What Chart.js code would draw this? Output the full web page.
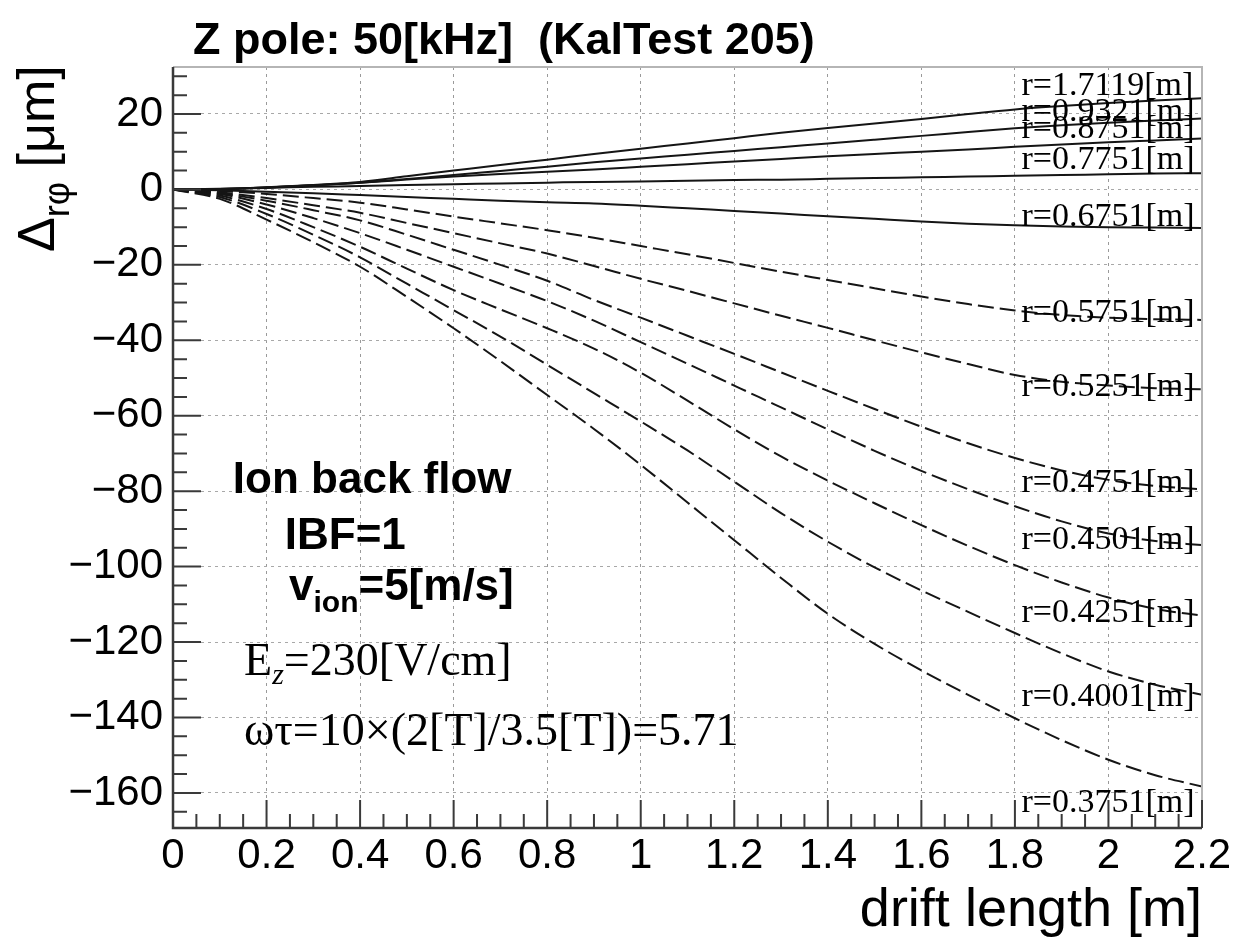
<!DOCTYPE html>
<html>
<head>
<meta charset="utf-8">
<script src="https://cdn.jsdelivr.net/npm/chart.js@4.4.1/dist/chart.umd.min.js"></script>
<style>
  html, body { margin: 0; padding: 0; background: #fff; }
  canvas { display: block; }
</style>
</head>
<body>
<canvas id="c" width="1235" height="947"></canvas>
<script>
// drift length samples [m]
const driftLength = [0, 0.1, 0.2, 0.3, 0.4, 0.5, 0.6, 0.7, 0.8, 0.9, 1.0, 1.1,
                     1.2, 1.3, 1.4, 1.5, 1.6, 1.7, 1.8, 1.9, 2.0, 2.1, 2.2];

// r-phi distortion [um] for each radius
const r1_7119 = [0, 0.1, 0.6, 1.2, 2.0, 3.5, 5.0, 6.5, 7.9, 9.4, 10.8, 12.2,
                 13.6, 15.0, 16.3, 17.5, 18.7, 20.0, 21.2, 22.1, 22.9, 23.6, 24.2];
const r0_9321 = [0, 0.1, 0.5, 1.1, 1.8, 2.8, 3.8, 4.9, 6.0, 7.2, 8.2, 9.2,
                 10.2, 11.2, 12.2, 13.2, 14.2, 15.2, 16.2, 17.0, 17.7, 18.3, 18.8];
const r0_8751 = [0, 0.1, 0.5, 1.1, 1.8, 2.6, 3.4, 4.1, 4.7, 5.3, 6.0, 6.7,
                 7.4, 8.1, 8.8, 9.4, 10.0, 10.6, 11.3, 11.9, 12.5, 13.0, 13.5];
const r0_7751 = [0, 0.2, 0.4, 0.7, 0.9, 1.2, 1.4, 1.6, 1.8, 2.0, 2.1, 2.3,
                 2.5, 2.6, 2.8, 3.0, 3.2, 3.4, 3.6, 3.8, 4.0, 4.2, 4.3];
const r0_6751 = [0, -0.2, -0.6, -1.0, -1.5, -2.0, -2.5, -3.0, -3.4, -3.7, -4.3, -5.0,
                 -5.7, -6.4, -7.1, -7.8, -8.5, -9.1, -9.5, -9.8, -10.0, -10.1, -10.2];
const r0_5751 = [0, -0.4, -1.2, -2.3, -3.5, -5.3, -7.2, -9.0, -10.8, -12.8, -15.0, -17.2,
                 -19.5, -21.8, -24.0, -26.2, -28.4, -30.4, -32.1, -33.3, -34.0, -34.4, -34.6];
const r0_5251 = [0, -0.8, -2.3, -4.2, -6.2, -8.9, -11.6, -14.3, -17.0, -20.3, -23.7, -26.9,
                 -30.2, -33.5, -36.7, -40.0, -43.2, -46.3, -49.2, -51.0, -52.0, -52.7, -53.0];
const r0_4751 = [0, -1.0, -3.0, -5.5, -8.2, -12.0, -16.0, -20.0, -24.2, -29.3, -34.0, -38.8,
                 -43.6, -48.5, -53.4, -58.2, -62.9, -67.3, -71.2, -74.5, -77.0, -78.6, -79.5];
const r0_4501 = [0, -1.2, -4.0, -7.6, -11.6, -16.0, -20.5, -25.0, -29.6, -34.8, -40.5, -46.2,
                 -52.0, -57.8, -63.6, -69.3, -74.6, -79.5, -84.0, -88.0, -91.2, -93.2, -94.3];
const r0_4251 = [0, -1.6, -5.2, -10.0, -15.2, -21.0, -26.7, -31.8, -36.8, -42.2, -48.6, -56.0,
                 -63.6, -70.8, -77.2, -83.2, -89.0, -94.5, -99.6, -104.2, -108.2, -111.2, -113.0];
const r0_4001 = [0, -2.0, -6.5, -12.0, -18.0, -25.0, -32.0, -39.0, -46.5, -54.0, -61.5, -69.2,
                 -77.5, -85.8, -93.4, -100.2, -106.3, -112.0, -117.6, -123.0, -127.8, -131.3, -134.0];
const r0_3751 = [0, -2.5, -8.0, -14.0, -20.5, -28.5, -36.8, -45.5, -54.5, -63.5, -73.0, -83.0,
                 -93.0, -103.0, -112.5, -120.5, -127.5, -134.0, -140.2, -146.0, -151.2, -155.3, -158.3];

const radii = ['1.7119', '0.9321', '0.8751', '0.7751', '0.6751', '0.5751',
               '0.5251', '0.4751', '0.4501', '0.4251', '0.4001', '0.3751'];
const series = [r1_7119, r0_9321, r0_8751, r0_7751, r0_6751, r0_5751,
                r0_5251, r0_4751, r0_4501, r0_4251, r0_4001, r0_3751];

// where each radius label sits (value axis, um)
const labelValue = [27.4, 20.5, 16.0, 7.8, -7.3, -32.7, -52.3, -77.8, -92.9, -112.2, -134.7, -162.6];
const labelDrift = 1.814;

// axis ticks
const xTicks = [0, 0.2, 0.4, 0.6, 0.8, 1.0, 1.2, 1.4, 1.6, 1.8, 2.0, 2.2];
const xTickLabels = ['0', '0.2', '0.4', '0.6', '0.8', '1', '1.2', '1.4', '1.6', '1.8', '2', '2.2'];
const yTicks = [-160, -140, -120, -100, -80, -60, -40, -20, 0, 20];
const yTickLabels = ['\u2212160', '\u2212140', '\u2212120', '\u2212100', '\u221280',
                     '\u221260', '\u221240', '\u221220', '0', '20'];

const SANS = '"Liberation Sans", Arial, sans-serif';
const SERIF = '"Liberation Serif", "Times New Roman", serif';

const datasets = series.map((vals, i) => ({
  label: 'r=' + radii[i] + '[m]',
  data: driftLength.map((x, j) => ({ x: x, y: vals[j] })),
  borderColor: '#151515',
  borderWidth: 2,
  borderDash: i < 5 ? [] : [16, 6],
  pointRadius: 0,
  fill: false,
  cubicInterpolationMode: 'monotone'
}));

// frame, inner tick marks, and all free text
const decorations = {
  id: 'decorations',
  afterDatasetsDraw(chart) {
    const { ctx, chartArea: a, scales: { x, y } } = chart;
    ctx.save();

    // radius labels at the right end of the curves
    ctx.fillStyle = '#000';
    ctx.font = '34px ' + SERIF;
    ctx.textAlign = 'left';
    ctx.textBaseline = 'middle';
    radii.forEach((r, i) => {
      ctx.fillText('r=' + r + '[m]', x.getPixelForValue(labelDrift), y.getPixelForValue(labelValue[i]));
    });

    // frame: light top/right, dark axes
    ctx.strokeStyle = '#b5b5b5';
    ctx.lineWidth = 2;
    ctx.beginPath();
    ctx.moveTo(a.left, a.top);
    ctx.lineTo(a.right, a.top);
    ctx.lineTo(a.right, a.bottom);
    ctx.stroke();

    ctx.strokeStyle = '#3a3a3a';
    ctx.lineWidth = 2.5;
    ctx.beginPath();
    ctx.moveTo(a.left, a.top);
    ctx.lineTo(a.left, a.bottom);
    ctx.lineTo(a.right, a.bottom);
    ctx.stroke();

    // tick marks pointing into the plot
    ctx.lineWidth = 2;
    ctx.beginPath();
    for (let k = 0; k <= 44; k++) {
      const v = k * 0.05;
      const px = x.getPixelForValue(v);
      const len = (k % 4 === 0) ? 28 : 14;
      ctx.moveTo(px, a.bottom);
      ctx.lineTo(px, a.bottom - len);
    }
    for (let v = -165; v <= 30; v += 5) {
      const py = y.getPixelForValue(v);
      const len = (v % 20 === 0) ? 28 : 14;
      ctx.moveTo(a.left, py);
      ctx.lineTo(a.left + len, py);
    }
    ctx.stroke();
    ctx.restore();
  },
  afterDraw(chart) {
    const { ctx, scales: { x, y } } = chart;
    const X = v => x.getPixelForValue(v);
    const Y = v => y.getPixelForValue(v);
    ctx.save();
    ctx.fillStyle = '#000';
    ctx.textAlign = 'left';
    ctx.textBaseline = 'alphabetic';

    // title
    ctx.font = 'bold 45px ' + SANS;
    ctx.fillText('Z pole: 50[kHz]  (KalTest 205)', 193, 54);

    // value-axis title with subscript
    ctx.save();
    ctx.translate(54, 252);
    ctx.rotate(-Math.PI / 2);
    ctx.font = '52px ' + SANS;
    ctx.fillText('\u0394', 0, 0);
    let w = ctx.measureText('\u0394').width;
    ctx.font = '36px ' + SANS;
    ctx.fillText('r\u03c6', w, 15);
    w += ctx.measureText('r\u03c6').width;
    ctx.font = '52px ' + SANS;
    ctx.fillText(' [\u03bcm]', w, 0);
    ctx.restore();

    // simulation conditions
    ctx.font = 'bold 44px ' + SANS;
    ctx.fillText('Ion back flow', X(0.128), Y(-80.5));
    ctx.fillText('IBF=1', X(0.239), Y(-95.3));
    let px = X(0.248);
    const py = Y(-108.9);
    ctx.fillText('v', px, py);
    px += ctx.measureText('v').width;
    ctx.font = 'bold 30px ' + SANS;
    ctx.fillText('ion', px, py + 12);
    px += ctx.measureText('ion').width;
    ctx.font = 'bold 44px ' + SANS;
    ctx.fillText('=5[m/s]', px, py);

    ctx.font = '46px ' + SERIF;
    let ex = X(0.152);
    const ey = Y(-128.7);
    ctx.fillText('E', ex, ey);
    ex += ctx.measureText('E').width;
    ctx.font = 'italic 30px ' + SERIF;
    ctx.fillText('z', ex, ey + 9);
    ex += ctx.measureText('z').width;
    ctx.font = '46px ' + SERIF;
    ctx.fillText('=230[V/cm]', ex, ey);

    ctx.fillText('\u03c9\u03c4=10\u00d7(2[T]/3.5[T])=5.71', X(0.152), Y(-147.3));
    ctx.restore();
  }
};

new Chart(document.getElementById('c'), {
  type: 'line',
  data: { datasets: datasets },
  options: {
    responsive: false,
    animation: false,
    devicePixelRatio: 1,
    layout: { padding: { left: 0, right: 33, top: 67, bottom: 0 } },
    plugins: {
      legend: { display: false },
      tooltip: { enabled: false },
      title: { display: false }
    },
    scales: {
      x: {
        type: 'linear',
        min: 0,
        max: 2.2,
        afterBuildTicks: s => { s.ticks = xTicks.map(v => ({ value: v })); },
        afterFit: s => { s.height = 119; },
        ticks: {
          autoSkip: false,
          maxRotation: 0,
          minRotation: 0,
          padding: 3,
          color: '#000',
          font: { family: SANS, size: 42 },
          callback: (v, i) => xTickLabels[i]
        },
        grid: { color: '#9a9a9a', lineWidth: 1, drawTicks: false },
        border: { display: false, dash: [3, 4] },
        title: {
          display: true,
          text: 'drift length [m]',
          align: 'end',
          color: '#000',
          font: { family: SANS, size: 54 },
          padding: { top: 0, bottom: 3 }
        }
      },
      y: {
        type: 'linear',
        min: -169.3,
        max: 32.46,
        afterBuildTicks: s => { s.ticks = yTicks.map(v => ({ value: v })); },
        afterFit: s => { s.width = 173; },
        ticks: {
          autoSkip: false,
          padding: 10,
          color: '#000',
          font: { family: SANS, size: 42 },
          callback: (v, i) => yTickLabels[i]
        },
        grid: { color: '#a8a8a8', lineWidth: 1, drawTicks: false },
        border: { display: false, dash: [3, 4] }
      }
    }
  },
  plugins: [decorations]
});
</script>
</body>
</html>
